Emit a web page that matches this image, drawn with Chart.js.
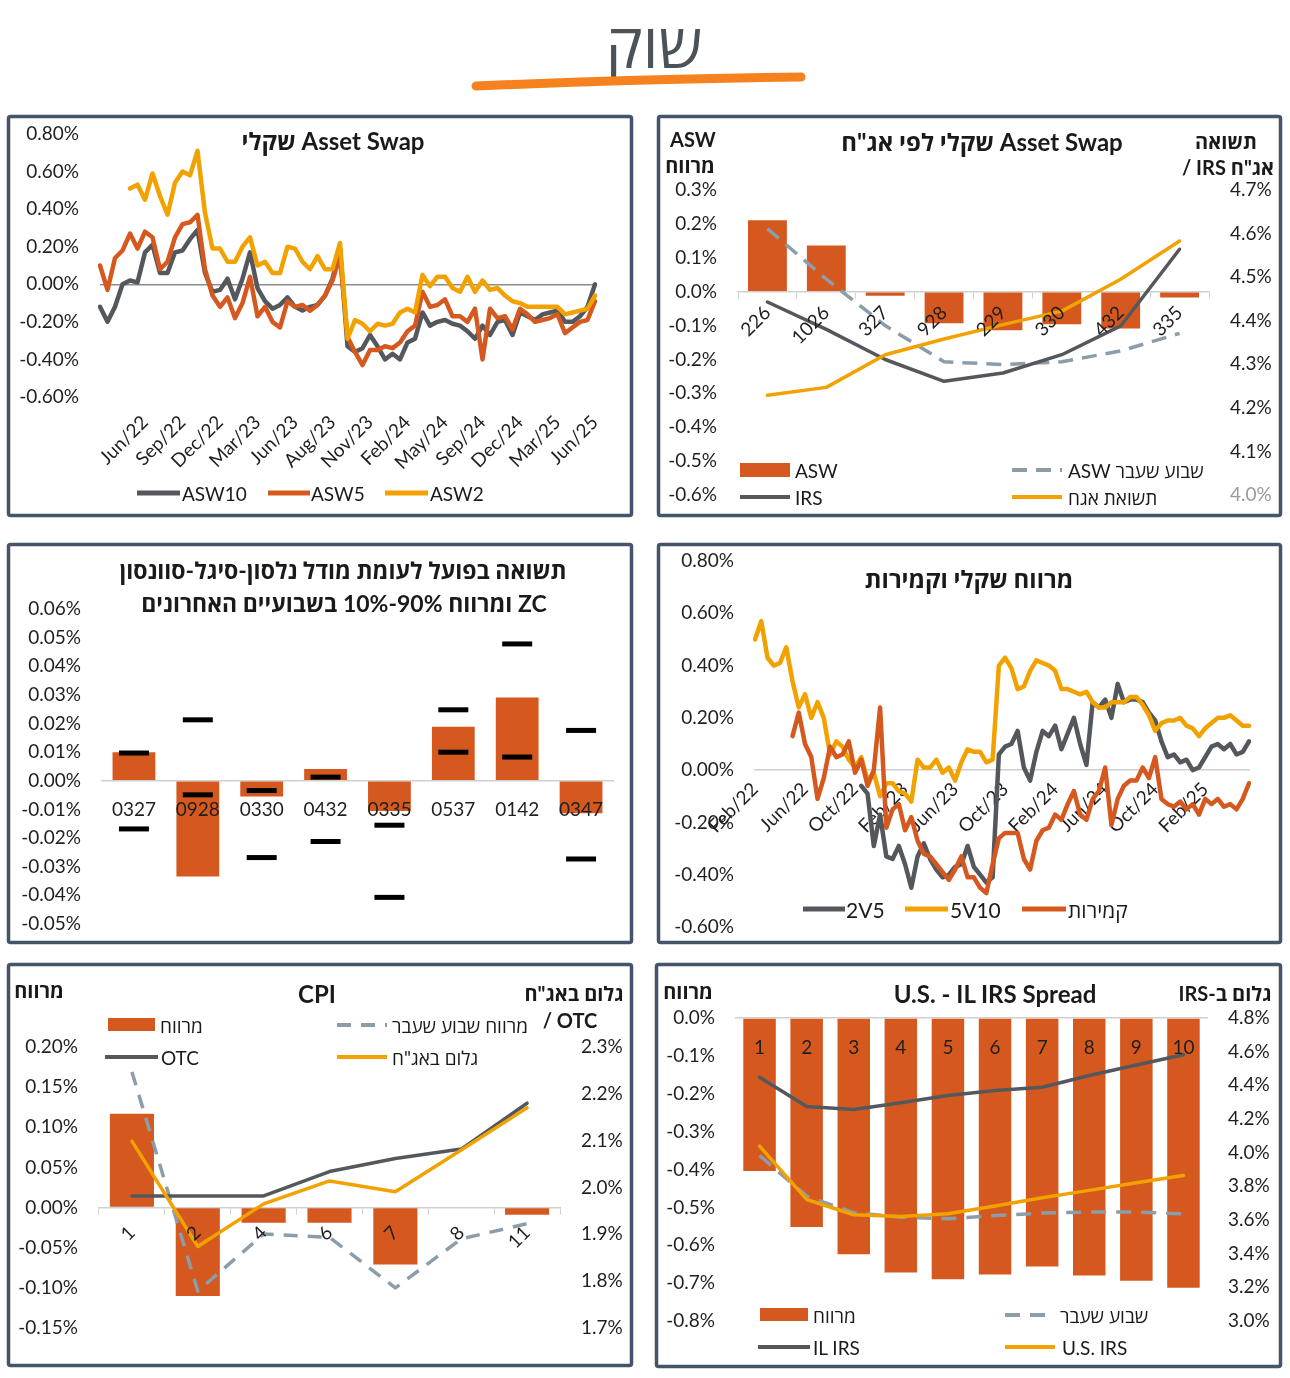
<!DOCTYPE html>
<html><head><meta charset="utf-8">
<script src="https://cdn.jsdelivr.net/npm/chart.js@4.4.1/dist/chart.umd.min.js"></script>
<style>
html,body{margin:0;padding:0;background:#fff;}
#page{position:relative;width:1290px;height:1378px;overflow:hidden;background:#fff;}
canvas{position:absolute;}
#ov{position:absolute;left:0;top:0;pointer-events:none;}
</style></head>
<body><div id="page"></div>
<script>
// ---------- Panel 1: Shekel Asset Swap (weekly) ----------
const asTickLabels = ['Jun/22','Sep/22','Dec/22','Mar/23','Jun/23','Aug/23','Nov/23','Feb/24','May/24','Sep/24','Dec/24','Mar/25','Jun/25'];
const asw10 = [-0.12,-0.20,-0.12,0.00,0.02,0.01,0.17,0.21,0.06,0.06,
  0.17,0.18,0.24,0.29,0.06,-0.04,-0.03,0.03,-0.08,0.03,
  0.17,-0.02,-0.09,-0.13,-0.11,-0.07,-0.12,-0.14,-0.12,-0.11,
  -0.06,0.03,0.19,-0.33,-0.36,-0.34,-0.27,-0.33,-0.40,-0.37,
  -0.40,-0.31,-0.29,-0.15,-0.22,-0.20,-0.19,-0.21,-0.22,-0.25,
  -0.29,-0.22,-0.27,-0.20,-0.19,-0.27,-0.15,-0.17,-0.19,-0.16,
  -0.15,-0.14,-0.20,-0.20,-0.17,-0.12,0.00];
const asw5 = [0.10,-0.03,0.14,0.18,0.27,0.19,0.28,0.25,0.08,0.12,
  0.25,0.32,0.33,0.37,0.08,-0.06,-0.12,-0.07,-0.18,-0.10,
  0.04,-0.17,-0.12,-0.20,-0.23,-0.09,-0.12,-0.11,-0.14,-0.11,
  -0.06,0.02,0.15,-0.28,-0.36,-0.43,-0.35,-0.35,-0.33,-0.34,
  -0.31,-0.25,-0.22,-0.04,-0.12,-0.11,-0.08,-0.17,-0.17,-0.20,
  -0.13,-0.40,-0.13,-0.18,-0.17,-0.24,-0.13,-0.16,-0.20,-0.19,
  -0.18,-0.16,-0.26,-0.23,-0.20,-0.19,-0.09];
const asw2 = [null,null,null,null,0.51,0.53,0.45,0.59,0.47,0.37,
  0.54,0.60,0.58,0.71,0.38,0.19,0.19,0.12,0.12,0.20,
  0.25,0.10,0.12,0.06,0.06,0.20,0.19,0.12,0.08,0.15,
  0.08,0.08,0.22,-0.29,-0.19,-0.21,-0.25,-0.21,-0.22,-0.21,
  -0.15,-0.13,-0.15,0.05,-0.01,0.04,0.04,-0.02,-0.04,0.04,
  -0.04,0.02,-0.03,-0.02,-0.06,-0.09,-0.10,-0.12,-0.12,-0.12,
  -0.12,-0.12,-0.16,-0.15,-0.14,-0.13,-0.06];

// ---------- Panel 2: Asset Swap by bond ----------
const trCats = ['226','1026','327','928','229','330','432','335'];
const trAsw = [0.211,0.136,-0.012,-0.093,-0.114,-0.096,-0.109,-0.017];
const trAswPrev = [0.186,0.037,-0.100,-0.207,-0.215,-0.207,-0.175,-0.123];
const trIrs = [4.443,4.380,4.311,4.261,4.280,4.322,4.388,4.564];
const trYield = [4.229,4.247,4.322,4.358,4.391,4.422,4.495,4.583];

// ---------- Panel 3: Actual vs NSS model ----------
const mlCats = ['0327','0928','0330','0432','0335','0537','0142','0347'];
const mlActual = [0.0100,-0.0334,-0.0055,0.0041,-0.0105,0.0189,0.0291,-0.0113];
const mlP90 = [0.0097,0.0213,-0.0034,0.0013,-0.0155,0.0248,0.0478,0.0176];
const mlP10 = [-0.0168,-0.0049,-0.0268,-0.0212,-0.0407,0.0100,0.0083,-0.0273];

// ---------- Panel 4: spreads & curvature ----------
const mrTickLabels = ['Feb/22','Jun/22','Oct/22','Feb/23','Jun/23','Oct/23','Feb/24','Jun/24','Oct/24','Feb/25'];
const s2v5 = [null,null,null,null,null,null,null,null,null,null,
  null,null,null,null,null,null,null,-0.06,-0.09,-0.29,
  -0.17,-0.33,-0.34,-0.29,-0.36,-0.45,-0.33,-0.28,-0.34,-0.38,
  -0.41,-0.40,-0.37,-0.36,-0.29,-0.37,-0.40,-0.43,-0.41,0.06,
  0.09,0.10,0.15,0.01,-0.04,0.07,0.15,0.13,0.17,0.08,
  0.14,0.20,0.10,0.02,0.26,0.24,0.27,0.20,0.33,0.26,
  0.27,0.27,0.26,0.22,0.19,0.11,0.05,0.06,0.03,0.04,
  0.00,0.01,0.05,0.09,0.10,0.08,0.10,0.06,0.07,0.11];
const s5v10 = [0.50,0.57,0.43,0.40,0.41,0.47,0.34,0.24,0.29,0.20,
  0.26,0.20,0.06,0.11,0.09,0.04,0.01,0.05,-0.04,-0.01,
  -0.10,-0.05,-0.05,-0.08,-0.09,-0.12,0.04,0.01,0.01,0.04,
  -0.01,0.01,-0.04,0.03,0.08,0.07,0.07,0.03,0.04,0.40,
  0.43,0.39,0.31,0.32,0.38,0.42,0.41,0.40,0.38,0.31,
  0.31,0.30,0.29,0.30,0.26,0.24,0.24,0.26,0.26,0.26,
  0.28,0.28,0.25,0.21,0.15,0.18,0.19,0.19,0.20,0.17,
  0.16,0.13,0.16,0.18,0.20,0.20,0.21,0.19,0.17,0.17];
const curv = [null,null,null,null,null,null,0.13,0.22,0.10,0.05,
  -0.11,-0.03,0.09,0.05,0.06,0.11,-0.01,0.04,-0.06,0.00,
  0.24,-0.22,-0.15,-0.13,-0.23,-0.18,-0.27,-0.32,-0.33,-0.36,
  -0.39,-0.42,-0.38,-0.33,-0.41,-0.41,-0.45,-0.47,-0.36,-0.26,
  -0.24,-0.24,-0.24,-0.34,-0.38,-0.27,-0.23,-0.22,-0.17,-0.19,
  -0.13,-0.08,-0.17,-0.19,-0.11,-0.08,0.01,-0.21,-0.11,-0.06,
  -0.04,-0.04,0.01,-0.03,0.05,-0.11,-0.13,-0.14,-0.12,-0.15,
  -0.13,-0.17,-0.11,-0.13,-0.11,-0.14,-0.13,-0.15,-0.11,-0.05];

// ---------- Panel 5: CPI ----------
const blCats = ['1','2','4','6','7','8','11'];
const blSpread = [0.117,-0.110,-0.019,-0.019,-0.071,null,-0.009];
const blPrev = [0.169,-0.104,-0.033,-0.037,-0.100,-0.039,-0.020];
const blOtc = [1.982,1.982,1.982,2.034,2.062,2.082,2.180];
const blImplied = [2.099,1.874,1.965,2.014,1.991,2.080,2.170];

// ---------- Panel 6: U.S. - IL IRS spread ----------
const brCats = ['1','2','3','4','5','6','7','8','9','10'];
const brSpread = [-0.404,-0.552,-0.624,-0.672,-0.690,-0.677,-0.656,-0.680,-0.694,-0.712];
const brPrev = [3.983,3.742,3.643,3.617,3.607,3.627,3.641,3.647,3.647,3.637];
const brIl = [4.448,4.274,4.256,4.296,4.339,4.369,4.389,4.458,4.521,4.582];
const brUs = [4.039,3.722,3.631,3.621,3.637,3.683,3.732,3.776,3.821,3.864];

// ================= rendering =================
const FONT = 'Lato, "Open Sans", "DejaVu Sans", sans-serif';
const RED = '#D5581F', ORANGE = '#F2A200', GRAY = '#54585D', DASH = '#8C9DAA', TICKC = '#1f1f1f', AXISC = '#D0D0D0';
const CLEAR = 'rgba(0,0,0,0)';
Chart.defaults.font.family = FONT;
Chart.defaults.font.size = 19;
Chart.defaults.color = TICKC;

const page = document.getElementById('page');
const fmt = (v, d) => (Math.abs(v) < 1e-9 ? 0 : v).toFixed(d) + '%';

function makeChart(box, area, cfg) {
  const [bx, by, bw, bh] = box;
  const cv = document.createElement('canvas');
  cv.width = bw; cv.height = bh;
  Object.assign(cv.style, {left: bx + 'px', top: by + 'px', width: bw + 'px', height: bh + 'px'});
  page.appendChild(cv);
  const t = {left: area[0] - bx, top: area[1] - by, right: area[2] - bx, bottom: area[3] - by};
  const o = cfg.options;
  const sc = o.scales;
  let hasRight = false, xBottom = false;
  Object.keys(sc).forEach(id => {
    const s = sc[id];
    if (id.charAt(0) === 'y') {
      if (s.position === 'right') { hasRight = true; s.afterFit = a => { a.width = bw - t.right; }; }
      else { s.afterFit = a => { a.width = t.left; }; }
    } else if (typeof s.position !== 'object') {
      xBottom = true; s.afterFit = a => { a.height = bh - t.bottom; };
    }
  });
  o.responsive = false; o.maintainAspectRatio = false; o.animation = false; o.events = [];
  o.layout = {padding: {left: 0, top: t.top, right: hasRight ? 0 : bw - t.right, bottom: xBottom ? 0 : bh - t.bottom}};
  o.plugins = {legend: {display: false}, tooltip: {enabled: false}};
  const ch = new Chart(cv, cfg);
  for (let k = 0; k < 4; k++) {
    const a = ch.chartArea, p = cfg.options.layout.padding;
    const d = Math.abs(t.left - a.left) + Math.abs(t.top - a.top) + Math.abs(t.right - a.right) + Math.abs(t.bottom - a.bottom);
    if (d < 0.5) break;
    cfg.options.layout.padding = {left: Math.max(0, p.left + t.left - a.left), top: Math.max(0, p.top + t.top - a.top),
      right: Math.max(0, p.right + a.right - t.right), bottom: Math.max(0, p.bottom + a.bottom - t.bottom)};
    ch.update('none');
  }
  return ch;
}
// y axes: the gap between labels and plot comes from an invisible tick mark (ticks.padding would inflate layout padding)
function yAxis(min, max, step, dec, pos, gridColor) {
  return {type: 'linear', position: pos || 'left', min: min, max: max,
    ticks: {stepSize: step, maxTicksLimit: 30, padding: 0, color: TICKC, callback: v => fmt(v, dec)},
    grid: {display: true, drawOnChartArea: !!gridColor, drawTicks: true, tickLength: 21, tickColor: CLEAR,
      color: gridColor || CLEAR, lineWidth: 1.5},
    border: {display: false}};
}
function lineDs(data, color, w, axis, order, dash) {
  return {type: 'line', data: data, borderColor: color, backgroundColor: color, borderWidth: w,
    pointRadius: 0, tension: 0, yAxisID: axis || 'y', order: order, borderDash: dash || [],
    borderJoinStyle: 'round', borderCapStyle: dash ? 'butt' : 'round', spanGaps: false};
}
function barDs(data, pct) {
  return {type: 'bar', data: data, backgroundColor: RED, yAxisID: 'y', order: 20,
    barPercentage: pct, categoryPercentage: 1};
}
function sparseLabels(n, ticks, first, every) {
  const arr = new Array(n).fill('');
  ticks.forEach((t, k) => { arr[first + every * k] = t; });
  return arr;
}

// Panel 1
makeChart([7, 115, 626, 402], [100, 134, 595, 397], {
  type: 'line',
  data: {labels: sparseLabels(asw10.length, asTickLabels, 6, 5), datasets: [
    lineDs(asw10, GRAY, 4.5, 'y', 3), lineDs(asw5, RED, 4.5, 'y', 2), lineDs(asw2, ORANGE, 4.5, 'y', 1)]},
  options: {scales: {
    x: {ticks: {autoSkip: false, maxRotation: 45, minRotation: 45, padding: 14}, grid: {display: false, drawTicks: false}, border: {display: false}},
    y: yAxis(-0.6, 0.8, 0.2, 2, 'left', c => (c.tick && Math.abs(c.tick.value) < 1e-9) ? '#8c8c8c' : CLEAR)
  }}
});

// Panel 2
const trY2 = yAxis(4.0, 4.7, 0.1, 1, 'right');
trY2.ticks.color = c => (Math.abs(c.tick.value - 4.0) < 1e-9 ? '#9a9a9a' : TICKC);
makeChart([657, 115, 625, 402], [738, 190, 1209, 495], {
  type: 'bar',
  data: {labels: trCats, datasets: [
    barDs(trAsw, 0.66),
    lineDs(trAswPrev, DASH, 3.5, 'y', 3, [15, 9]),
    lineDs(trIrs, GRAY, 3.5, 'y2', 2),
    lineDs(trYield, ORANGE, 3.5, 'y2', 1)]},
  options: {scales: {
    x: {position: {y: 0}, offset: true,
      grid: {display: true, offset: true, drawOnChartArea: false, drawTicks: true, tickLength: 6, color: AXISC},
      border: {display: true, color: AXISC, width: 1.5},
      ticks: {z: 1, autoSkip: false, maxRotation: 45, minRotation: 45, padding: 4}},
    y: yAxis(-0.6, 0.3, 0.1, 1, 'left'),
    y2: trY2
  }}
});

// Panel 3
makeChart([7, 543, 626, 401], [102, 609, 629, 926], {
  type: 'bar',
  data: {labels: mlCats, datasets: [
    barDs(mlActual, 0.67),
    {type: 'line', data: mlP90, showLine: false, pointStyle: 'line', pointRadius: 15, pointBorderWidth: 5,
      pointBorderColor: '#000', borderColor: '#000', order: 1},
    {type: 'line', data: mlP10, showLine: false, pointStyle: 'line', pointRadius: 15, pointBorderWidth: 5,
      pointBorderColor: '#000', borderColor: '#000', order: 1}]},
  options: {scales: {
    x: {position: {y: 0}, offset: true, grid: {display: false, drawTicks: false},
      border: {display: true, color: AXISC, width: 1.5},
      ticks: {z: 1, autoSkip: false, maxRotation: 0, minRotation: 0, padding: 18}},
    y: yAxis(-0.05, 0.06, 0.01, 2, 'left')
  }}
});

// Panel 4
makeChart([657, 543, 625, 401], [755, 561, 1249, 927], {
  type: 'line',
  data: {labels: sparseLabels(s5v10.length, mrTickLabels, 0, 8), datasets: [
    lineDs(s2v5, GRAY, 4.5, 'y', 3), lineDs(s5v10, ORANGE, 4.5, 'y', 2), lineDs(curv, RED, 4.5, 'y', 1)]},
  options: {scales: {
    x: {position: {y: 0}, grid: {display: false, drawTicks: false},
      border: {display: true, color: AXISC, width: 1.5},
      ticks: {autoSkip: false, maxRotation: 45, minRotation: 45, padding: 8}},
    y: yAxis(-0.6, 0.8, 0.2, 2, 'left')
  }}
});

// Panel 5
makeChart([7, 963, 626, 404], [99, 1047, 560, 1328], {
  type: 'bar',
  data: {labels: blCats, datasets: [
    barDs(blSpread, 0.67),
    lineDs(blPrev, DASH, 3.5, 'y', 3, [14, 10]),
    lineDs(blOtc, GRAY, 3.5, 'y2', 2),
    lineDs(blImplied, ORANGE, 3.5, 'y2', 1)]},
  options: {scales: {
    x: {position: {y: 0}, offset: true,
      grid: {display: true, offset: true, drawOnChartArea: false, drawTicks: true, tickLength: 6, color: AXISC},
      border: {display: true, color: AXISC, width: 1.5},
      ticks: {z: 1, autoSkip: false, maxRotation: 45, minRotation: 45, padding: 8}},
    y: yAxis(-0.15, 0.20, 0.05, 2, 'left'),
    y2: yAxis(1.7, 2.3, 0.1, 1, 'right')
  }}
});

// Panel 6
makeChart([655, 963, 627, 405], [736, 1018, 1207, 1321], {
  type: 'bar',
  data: {labels: brCats, datasets: [
    barDs(brSpread, 0.69),
    lineDs(brPrev, DASH, 3.5, 'y2', 3, [15, 10]),
    lineDs(brIl, GRAY, 3.5, 'y2', 2),
    lineDs(brUs, ORANGE, 3.5, 'y2', 1)]},
  options: {scales: {
    x: {position: {y: 0}, offset: true, grid: {display: false, drawTicks: false},
      border: {display: true, color: AXISC, width: 1.5},
      ticks: {z: 1, autoSkip: false, maxRotation: 0, minRotation: 0, padding: 18}},
    y: yAxis(-0.8, 0, 0.1, 1, 'left'),
    y2: yAxis(3.0, 4.8, 0.2, 1, 'right')
  }}
});

// ---------- overlay: header, frames, titles, legends ----------
const NS = 'http://www.w3.org/2000/svg';
const ov = document.createElementNS(NS, 'svg');
ov.setAttribute('id', 'ov'); ov.setAttribute('width', 1290); ov.setAttribute('height', 1378);
page.appendChild(ov);
function el(tag, attrs, text) {
  const e = document.createElementNS(NS, tag);
  for (const k in attrs) e.setAttribute(k, attrs[k]);
  if (text !== undefined) e.textContent = text;
  ov.appendChild(e); return e;
}
function T(str, x, y, o) {
  o = o || {};
  const a = {x: x, y: y, 'text-anchor': o.a || 'start', 'dominant-baseline': 'central',
    'font-size': o.s || 19, 'font-weight': o.b ? 'bold' : 'normal', 'font-family': o.f || FONT, fill: o.c || '#1a1a1a'};
  if (o.rtl) { a.direction = 'rtl'; a['unicode-bidi'] = 'embed'; }
  el('text', a, str);
}
function L(x1, y1, x2, y2, c, w, dash) {
  const a = {x1: x1, y1: y1, x2: x2, y2: y2, stroke: c, 'stroke-width': w || 4};
  if (dash) a['stroke-dasharray'] = dash;
  el('line', a);
}
function R(x, y, w, h, c) { el('rect', {x: x, y: y, width: w, height: h, fill: c}); }

// header
T('שוק', 654, 44, {a: 'middle', s: 62, f: '"Open Sans", "DejaVu Sans", sans-serif', c: '#4B5258'});
el('path', {d: 'M 476 86 Q 640 79 801 77', stroke: '#F5821F', 'stroke-width': 9, fill: 'none', 'stroke-linecap': 'round'});

// frames
[[7, 115, 626, 402], [657, 115, 625, 402], [7, 543, 626, 401], [657, 543, 625, 401], [7, 963, 626, 404], [655, 963, 627, 405]]
  .forEach(b => el('rect', {x: b[0] + 1.5, y: b[1] + 1.5, width: b[2] - 3, height: b[3] - 3, fill: 'none',
    stroke: '#44546A', 'stroke-width': 3.5, rx: 2}));

// panel 1
T('שקלי Asset Swap', 333, 140, {a: 'middle', s: 24, b: true});
L(137, 493, 180, 493, GRAY, 5); T('ASW10', 182, 493);
L(268, 493, 310, 493, RED, 5); T('ASW5', 311, 493);
L(385, 493, 428, 493, ORANGE, 5); T('ASW2', 430, 493);

// panel 2
T('ASW', 693, 139, {a: 'middle', s: 20, b: true});
T('מרווח', 690, 165, {a: 'middle', s: 20, b: true});
T('שקלי לפי אג"ח Asset Swap', 982, 141, {a: 'middle', s: 24, b: true});
T('תשואה', 1226, 141, {a: 'middle', s: 20, b: true});
T('/ IRS אג"ח', 1228, 167, {a: 'middle', s: 20, b: true});
R(740, 463, 50, 14, RED); T('ASW', 795, 470);
L(740, 497, 790, 497, GRAY, 4); T('IRS', 795, 497);
L(1012, 470, 1062, 470, DASH, 4, '15 9'); T('ASW שבוע שעבר', 1068, 470);
L(1012, 497, 1062, 497, ORANGE, 4); T('תשואת אגח', 1068, 497);

// panel 3
T('תשואה בפועל לעומת מודל נלסון-סיגל-סוונסון', 343, 570, {a: 'middle', s: 23, b: true, rtl: true});
T('ZC ומרווח \u206610%-90%\u2069 בשבועיים האחרונים', 344, 603, {a: 'middle', s: 23, b: true, rtl: true});

// panel 4
T('מרווח שקלי וקמירות', 969, 578, {a: 'middle', s: 24, b: true, rtl: true});
L(803, 909, 845, 909, GRAY, 5); T('2V5', 846, 909, {s: 21});
L(905, 909, 948, 909, ORANGE, 5); T('5V10', 950, 909, {s: 21});
L(1022, 909, 1066, 909, RED, 5); T('קמירות', 1068, 909, {s: 21});

// panel 5
T('מרווח', 39, 990, {a: 'middle', s: 20, b: true});
T('CPI', 317, 993, {a: 'middle', s: 24, b: true});
T('גלום באג"ח', 574, 993, {a: 'middle', s: 20, b: true, rtl: true});
T('/ OTC', 570, 1020, {a: 'middle', s: 20, b: true});
R(108, 1018, 47, 13, RED); T('מרווח', 160, 1025);
L(337, 1025, 387, 1025, DASH, 4, '14 10'); T('מרווח שבוע שעבר', 392, 1025);
L(105, 1057, 158, 1057, GRAY, 4); T('OTC', 161, 1057);
L(337, 1057, 387, 1057, ORANGE, 4); T('גלום באג"ח', 392, 1057);

// panel 6
T('מרווח', 688, 991, {a: 'middle', s: 20, b: true});
T('U.S. - IL IRS Spread', 995, 993, {a: 'middle', s: 24, b: true});
T('גלום ב-IRS', 1225, 993, {a: 'middle', s: 20, b: true, rtl: true});
R(760, 1308, 48, 13, RED); T('מרווח', 813, 1315);
L(1005, 1315, 1055, 1315, DASH, 4, '15 10'); T('שבוע שעבר', 1060, 1315);
L(758, 1347, 810, 1347, GRAY, 4); T('IL IRS', 813, 1347);
L(1005, 1347, 1055, 1347, ORANGE, 4); T('U.S. IRS', 1062, 1347);
</script>
</body></html>
